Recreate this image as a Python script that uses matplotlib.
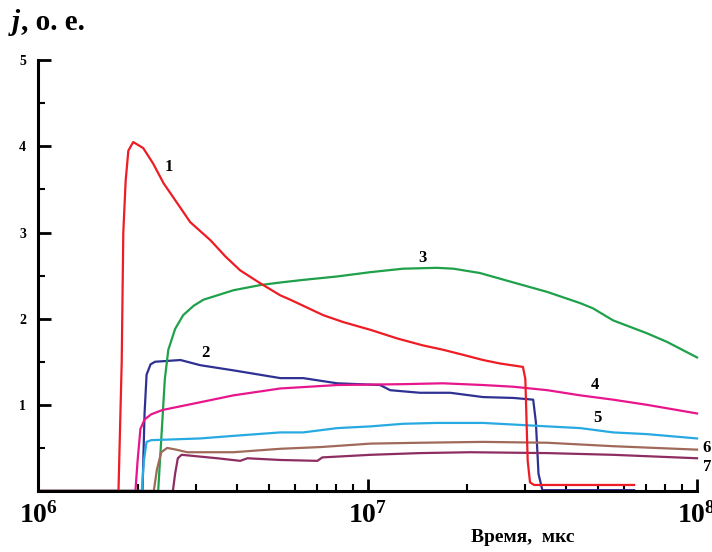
import matplotlib
matplotlib.use("Agg")
import matplotlib.pyplot as plt
from matplotlib.ticker import FixedLocator, NullFormatter

plt.rcParams['font.family'] = 'Liberation Serif'
plt.rcParams['mathtext.fontset'] = 'custom'
plt.rcParams['mathtext.rm'] = 'Liberation Serif'
plt.rcParams['mathtext.bf'] = 'Liberation Serif:bold'

# Time, mks (log axis) and current j, arb. units
t1 = [1.0e6, 1.75e6, 1.79e6, 1.81e6, 1.84e6, 1.875e6, 1.94e6, 2.08e6, 2.23e6,
      2.40e6, 2.64e6, 2.89e6, 3.33e6, 3.70e6, 4.10e6, 4.72e6, 5.43e6, 5.82e6,
      7.33e6, 8.43e6, 1.02e7, 1.23e7, 1.47e7, 1.69e7, 1.95e7, 2.24e7, 2.52e7,
      2.96e7, 3.01e7, 3.06e7, 3.11e7, 3.2e7, 4.0e7, 6.44e7]
j1 = [0.0, 0.0, 1.5, 3.0, 3.6, 3.95, 4.05, 3.98, 3.80, 3.57, 3.34, 3.12, 2.91,
      2.72, 2.56, 2.41, 2.27, 2.22, 2.04, 1.96, 1.87, 1.77, 1.69, 1.64, 1.58,
      1.52, 1.48, 1.44, 1.30, 0.35, 0.10, 0.07, 0.07, 0.07]

t2 = [1.0e6, 2.07e6, 2.10e6, 2.13e6, 2.19e6, 2.26e6, 2.70e6, 3.10e6, 3.91e6,
      5.43e6, 6.37e6, 8.08e6, 1.09e7, 1.17e7, 1.44e7, 1.78e7, 2.24e7, 2.77e7,
      3.18e7, 3.24e7, 3.30e7, 3.39e7, 6.44e7]
j2 = [0.0, 0.0, 0.9, 1.35, 1.47, 1.50, 1.52, 1.46, 1.40, 1.31, 1.31, 1.25,
      1.23, 1.17, 1.14, 1.14, 1.09, 1.08, 1.06, 0.8, 0.2, 0.01, 0.01]

t3 = [1.0e6, 2.31e6, 2.36e6, 2.42e6, 2.48e6, 2.60e6, 2.75e6, 2.96e6, 3.17e6,
      3.91e6, 4.72e6, 5.43e6, 6.37e6, 8.08e6, 1.02e7, 1.28e7, 1.62e7, 1.82e7,
      2.19e7, 2.77e7, 3.51e7, 4.42e7, 4.83e7, 5.56e7, 7.05e7, 8.11e7, 1.0e8]
j3 = [0.0, 0.0, 0.6, 1.3, 1.64, 1.88, 2.04, 2.15, 2.22, 2.33, 2.39, 2.42, 2.45,
      2.49, 2.54, 2.58, 2.59, 2.58, 2.53, 2.42, 2.31, 2.18, 2.12, 1.98, 1.83,
      1.73, 1.55]

t4 = [1.0e6, 1.97e6, 2.00e6, 2.04e6, 2.10e6, 2.20e6, 2.38e6, 3.10e6, 3.91e6,
      5.43e6, 8.08e6, 1.28e7, 1.69e7, 2.24e7, 2.77e7, 3.51e7, 4.42e7, 5.56e7,
      7.05e7, 1.0e8]
j4 = [0.0, 0.0, 0.35, 0.72, 0.83, 0.89, 0.94, 1.03, 1.11, 1.19, 1.23, 1.24,
      1.25, 1.23, 1.21, 1.17, 1.11, 1.06, 1.00, 0.90]

t5 = [1.0e6, 2.06e6, 2.09e6, 2.13e6, 2.20e6, 3.10e6, 3.91e6, 5.43e6, 6.37e6,
      8.08e6, 1.02e7, 1.28e7, 1.62e7, 2.24e7, 3.51e7, 4.42e7, 5.56e7, 7.05e7,
      1.0e8]
j5 = [0.0, 0.0, 0.35, 0.57, 0.59, 0.61, 0.64, 0.68, 0.68, 0.73, 0.75, 0.78,
      0.79, 0.79, 0.75, 0.73, 0.68, 0.66, 0.61]

t6 = [1.0e6, 2.24e6, 2.29e6, 2.36e6, 2.46e6, 2.62e6, 2.83e6, 3.91e6, 5.43e6,
      7.18e6, 1.02e7, 1.44e7, 2.24e7, 3.51e7, 5.56e7, 1.0e8]
j6 = [0.0, 0.0, 0.25, 0.45, 0.50, 0.48, 0.45, 0.45, 0.49, 0.51, 0.55, 0.56,
      0.57, 0.56, 0.52, 0.48]

t7 = [1.0e6, 2.56e6, 2.60e6, 2.65e6, 2.72e6, 2.90e6, 3.49e6, 4.10e6, 4.31e6,
      5.43e6, 7.03e6, 7.28e6, 1.02e7, 1.44e7, 2.05e7, 3.51e7, 5.56e7, 1.0e8]
j7 = [0.0, 0.0, 0.2, 0.38, 0.42, 0.41, 0.38, 0.35, 0.38, 0.36, 0.35, 0.39,
      0.42, 0.44, 0.45, 0.44, 0.42, 0.38]

curves = [(t1, j1, '#ee1c24'), (t2, j2, '#2e3192'), (t3, j3, '#1fa04a'),
          (t4, j4, '#e8168c'), (t5, j5, '#27aae1'), (t6, j6, '#a0695a'),
          (t7, j7, '#8e2d62')]

# curve numbers and where they sit (time, j)
labels = ['1', '2', '3', '4', '5', '6', '7']
label_t = [2.48e6, 3.21e6, 1.47e7, 4.9e7, 4.97e7, 1.07e8, 1.07e8]
label_j = [3.76, 1.60, 2.70, 1.23, 0.85, 0.50, 0.28]

fig = plt.figure(figsize=(7.12, 5.52), dpi=100)
ax = fig.add_axes([0.054, 0.1105, 0.925, 0.7805])

# draw 1 last so it sits on top, like the picture
for t, j, c in curves[1:] + curves[:1]:
    ax.plot(t, j, color=c, lw=1.6, clip_on=False)

for lab, x, y in zip(labels, label_t, label_j):
    ax.text(x, y, lab, fontsize=12, fontweight='bold', ha='center', va='center')

ax.set_xscale('log')
ax.set_xlim(1e6, 1e8)
ax.set_ylim(0, 5)

for s in ['top', 'right']:
    ax.spines[s].set_visible(False)
for s in ['left', 'bottom']:
    ax.spines[s].set_linewidth(2.2)

ax.set_xticks([1e6, 1e7, 1e8])
ax.set_xticklabels([r'$\mathbf{10^{6}}$', r'$\mathbf{10^{7}}$', r'$\mathbf{10^{8}}$'])
ax.xaxis.set_minor_locator(FixedLocator([k * 10.0 ** e for e in (6, 7) for k in range(2, 10)]))
ax.xaxis.set_minor_formatter(NullFormatter())
ax.set_yticks([1, 2, 3, 4, 5])
ax.set_yticks([0.5, 1.5, 2.5, 3.5, 4.5], minor=True)

ax.tick_params(axis='x', which='major', direction='in', length=9, width=2,
               labelsize=20, pad=8)
ax.tick_params(axis='x', which='minor', direction='in', length=5, width=1.5)
ax.tick_params(axis='y', which='major', direction='in', length=9, width=2,
               labelsize=10, pad=9)
ax.tick_params(axis='y', which='minor', direction='in', length=5, width=1.5)
for lab in ax.get_yticklabels():
    lab.set_fontweight('bold')

fig.text(12 / 712, 1 - 22 / 552, 'j', fontsize=21, fontweight='bold',
         fontstyle='italic', va='center')
fig.text(21 / 712, 1 - 22 / 552, ', o. e.', fontsize=21, fontweight='bold',
         va='center')
fig.text(523 / 712, 1 - 538 / 552, 'Время,  мкс', fontsize=14,
         fontweight='bold', ha='center', va='center')

fig.savefig('out.png', dpi=100)
